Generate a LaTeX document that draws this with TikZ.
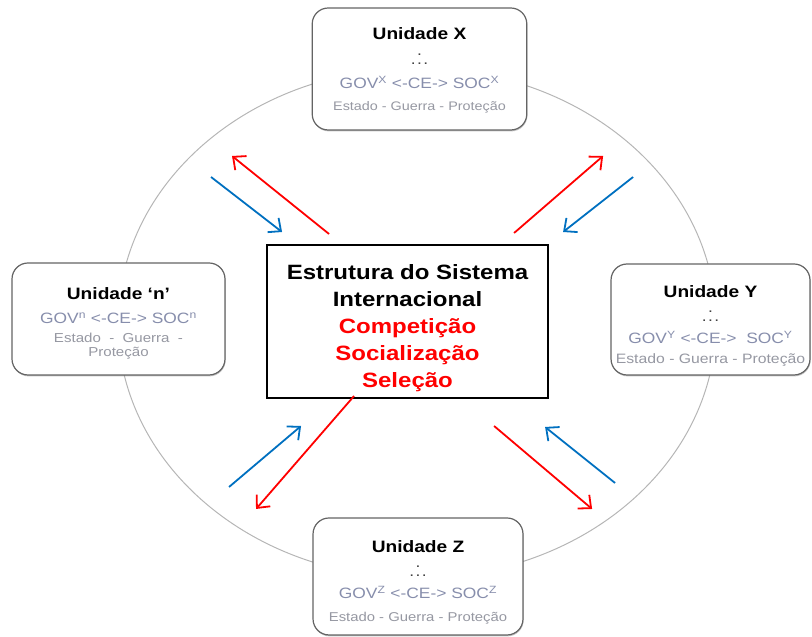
\documentclass[tikz,border=0pt]{standalone}
\usepackage{fontspec}
\setmainfont{Liberation Sans}
\usetikzlibrary{arrows.meta,shadows}

\definecolor{ringgray}{RGB}{182,182,182}
\definecolor{boxgray}{RGB}{100,100,100}
\definecolor{govblue}{RGB}{135,142,172}
\definecolor{estgray}{RGB}{150,152,162}
\definecolor{flowblue}{RGB}{0,112,192}
\definecolor{flowred}{RGB}{255,0,0}

% #1 = height of the first line, used to lower the whole block
\newcommand{\unitname}[2]{\rule{0pt}{#1}{\fontsize{16.5}{16.5}\selectfont\bfseries #2}}
\newcommand{\govsoc}[2][ ]{{\fontsize{15}{15}\selectfont\color{govblue}GOV\textsuperscript{#2} <-CE->#1SOC\textsuperscript{#2}}}
\newcommand{\estfont}[1]{\fontsize{#1}{#1}\selectfont\color{estgray}}
\newcommand{\dotmark}{\smash{\fontsize{15}{15}\selectfont\color{black!75}\shortstack{.\\[4pt].\kern1.2pt.\kern1.2pt.}}}

\tikzset{
  unit/.style={draw=boxgray, line width=1.2pt, rounded corners=16pt, fill=white,
    drop shadow={shadow xshift=.6pt, shadow yshift=-1.4pt, opacity=.45, fill=gray},
    align=center, inner sep=2pt, font=\fontsize{12}{22}\selectfont},
  hub/.style={draw, line width=2.2pt, fill=white, align=center,
    font=\fontsize{20.7}{27}\selectfont\bfseries, minimum width=242pt, minimum height=153pt},
  tie/.style={-{Straight Barb[length=10pt,width=18pt]}, line width=1.8pt},
}

\begin{document}
\begin{tikzpicture}[x=0.8621pt, y=-1pt, xscale=1.16, transform shape]
\useasboundingbox (0,0) rectangle (812,637);

\draw[ringgray, line width=1pt] (417,323) ellipse [x radius=299, y radius=255];

\node[hub] (core) at (407.5,321.5)
  {\rule{0pt}{29pt}Estrutura do Sistema\\ Internacional\\ \textcolor{flowred}{Competição}\\
   \textcolor{flowred}{Socialização}\\ \textcolor{flowred}{Seleção}};

\node[unit, minimum width=185pt, minimum height=122pt] (ux) at (419.5,69)
  {\unitname{14.7pt}{Unidade X}\\[3pt] \dotmark\\[2pt] \govsoc{X}\\ {\estfont{12.4} Estado - Guerra - Proteção}};
\node[unit, minimum width=183.6pt, minimum height=112pt] (un) at (118.5,319)
  {\unitname{21.7pt}{Unidade `n'}\\[2pt] \govsoc{n}\\[-3pt] {\estfont{13} Estado~ -~ Guerra~ -}\\[-8pt] {\estfont{13} Proteção}};
\node[unit, minimum width=171.5pt, minimum height=111pt] (uy) at (710.5,319.5)
  {\unitname{24.7pt}{Unidade Y}\\[2pt] \dotmark\\ {\fontsize{16}{16}\selectfont\govsoc[~ ]{Y}}\\[-2pt] {\estfont{13.6} Estado - Guerra - Proteção}};
\node[unit, minimum width=181pt, minimum height=117pt] (uz) at (418,576.5)
  {\unitname{23.7pt}{Unidade Z}\\[2pt] \dotmark\\ \govsoc{Z}\\[1pt] {\estfont{12.8} Estado - Guerra - Proteção}};

% end points of the exchange arrows
\coordinate (rnw1) at (329,234); \coordinate (rnw2) at (232,156);
\coordinate (bnw1) at (211,177); \coordinate (bnw2) at (282,232);
\coordinate (rne1) at (514,233); \coordinate (rne2) at (603,156);
\coordinate (bne1) at (633,177); \coordinate (bne2) at (563,232);
\coordinate (bsw1) at (229,487); \coordinate (bsw2) at (301,426);
\coordinate (rsw1) at (354,396); \coordinate (rsw2) at (256,509);
\coordinate (rse1) at (494,426); \coordinate (rse2) at (592,509);
\coordinate (bse1) at (615,483); \coordinate (bse2) at (545,427);

\draw[tie, flowred] (rnw1) -- (rnw2);
\draw[tie, flowblue] (bnw1) -- (bnw2);
\draw[tie, flowred] (rne1) -- (rne2);
\draw[tie, flowblue] (bne1) -- (bne2);
\draw[tie, flowblue] (bsw1) -- (bsw2);
\draw[tie, flowred] (rsw1) -- (rsw2);
\draw[tie, flowred] (rse1) -- (rse2);
\draw[tie, flowblue] (bse1) -- (bse2);

\end{tikzpicture}
\end{document}
